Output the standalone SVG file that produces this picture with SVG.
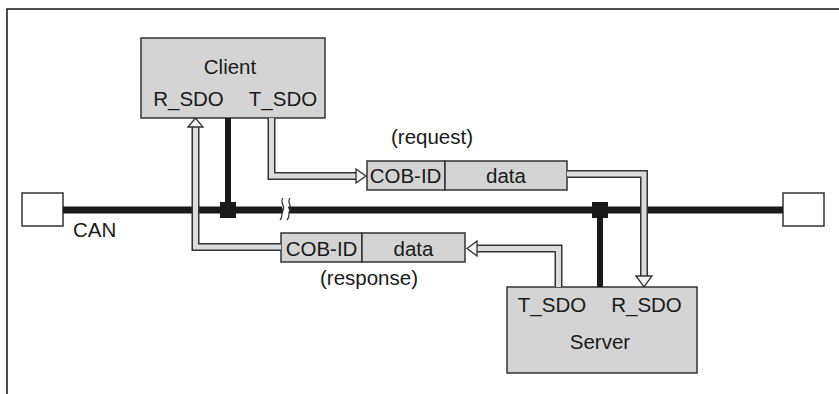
<svg xmlns="http://www.w3.org/2000/svg" width="839" height="394" viewBox="0 0 839 394">
<style>
  text { font-family: "Liberation Sans", Arial, sans-serif; font-size: 20.5px; fill: #1a1a1a; }
  .box { fill: #d4d4d4; stroke: #333; stroke-width: 1.5; }
  .term { fill: #fff; stroke: #333; stroke-width: 1.5; }
  .bus { stroke: #1a1a1a; fill: none; }
  .band-o { fill: none; stroke: #333; stroke-width: 8; stroke-linejoin: miter; }
  .band-i { fill: none; stroke: #dcdcdc; stroke-width: 5; stroke-linejoin: miter; }
  .head { fill: #f2f2f2; stroke: #333; stroke-width: 1.3; stroke-linejoin: miter; }
  .frame { stroke: #111; stroke-width: 1.5; fill: none; }
</style>
<rect width="839" height="394" fill="#fff"/>
<path class="frame" d="M7,394 V9 H839"/>

<g id="bus">
  <rect class="term" x="22" y="193" width="41" height="33"/>
  <rect class="term" x="783" y="193" width="41" height="33"/>
  <line class="bus" x1="63" y1="210" x2="783" y2="210" stroke-width="7"/>
  <path d="M283,205 C280,208 286,210 282,215 L288,215 C292,210 286,208 289,205 Z" fill="#fff"/>
  <path d="M283,198 C279,203 286,206 283,210 C280,214 284,216 280,220" fill="none" stroke="#333" stroke-width="1.2"/>
  <path d="M290,198 C286,203 293,206 290,210 C287,214 291,216 287,220" fill="none" stroke="#333" stroke-width="1.2"/>
  <text x="73" y="237">CAN</text>
</g>

<g id="client">
  <rect class="box" x="141" y="38" width="184" height="80"/>
  <text x="230" y="74" text-anchor="middle">Client</text>
  <text x="188.5" y="106" text-anchor="middle">R_SDO</text>
  <text x="283" y="106" text-anchor="middle">T_SDO</text>
</g>

<g id="server">
  <rect class="box" x="507" y="287" width="190" height="86"/>
  <text x="552" y="312" text-anchor="middle">T_SDO</text>
  <text x="646.5" y="312" text-anchor="middle">R_SDO</text>
  <text x="600" y="349" text-anchor="middle">Server</text>
</g>

<g id="request">
  <rect class="box" x="367" y="161" width="78" height="29"/>
  <rect class="box" x="445" y="161" width="122" height="29"/>
  <text x="405.5" y="183" text-anchor="middle">COB-ID</text>
  <text x="506" y="183" text-anchor="middle">data</text>
  <text x="432" y="144" text-anchor="middle">(request)</text>
</g>

<g id="response">
  <rect class="box" x="281" y="233" width="81" height="29"/>
  <rect class="box" x="362" y="233" width="103" height="29"/>
  <text x="321.5" y="256" text-anchor="middle">COB-ID</text>
  <text x="413.5" y="256" text-anchor="middle">data</text>
  <text x="369" y="285" text-anchor="middle">(response)</text>
</g>

<g id="connectors">
  <line class="bus" x1="228" y1="118" x2="228" y2="210" stroke-width="6"/>
  <rect x="220" y="202" width="16" height="16" fill="#1a1a1a"/>
  <line class="bus" x1="600" y1="210" x2="600" y2="287" stroke-width="6"/>
  <rect x="592" y="202" width="16" height="16" fill="#1a1a1a"/>

  <path class="band-o" d="M271.5,118 V176 H357"/>
  <path class="band-i" d="M271.5,118 V176 H358"/>
  <polygon class="head" points="356,169 366,176 356,183"/>

  <path class="band-o" d="M567,174 H644 V277"/>
  <path class="band-i" d="M567,174 H644 V278"/>
  <polygon class="head" points="636,276 644,287 652,276"/>

  <path class="band-o" d="M558.5,287 V248.5 H477"/>
  <path class="band-i" d="M558.5,287 V248.5 H476"/>
  <polygon class="head" points="477,241 467,248.5 477,256"/>

  <path class="band-o" d="M281,247 H195.5 V127"/>
  <path class="band-i" d="M281,247 H195.5 V126"/>
  <polygon class="head" points="188,127 195.5,118 203,127"/>
</g>
</svg>
